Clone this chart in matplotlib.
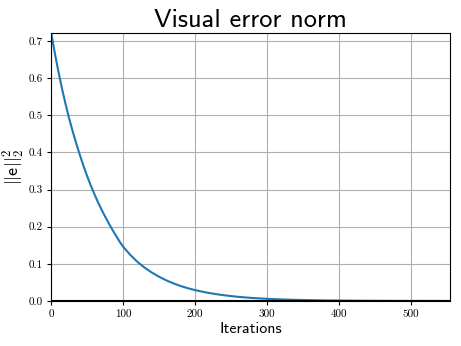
import numpy as np
import matplotlib.pyplot as plt

# values
iterations = [0, 5, 10, 15, 20, 25, 30, 35, 40, 45, 50, 55, 60, 65, 70, 75, 80, 85,
              90, 95, 100, 110, 120, 130, 140, 150, 160, 170, 180, 190, 200, 215,
              230, 245, 260, 280, 300, 320, 340, 360, 380, 400, 430, 460, 490,
              520, 554]
error_norm = [0.722, 0.668, 0.618, 0.572, 0.530, 0.491, 0.456, 0.423, 0.392, 0.363,
              0.336, 0.311, 0.288, 0.266, 0.246, 0.227, 0.209, 0.192, 0.176, 0.160,
              0.146, 0.124, 0.105, 0.0895, 0.0765, 0.0652, 0.0555, 0.0473, 0.0403,
              0.0344, 0.0293, 0.0231, 0.0182, 0.0144, 0.0112, 0.0081, 0.0059,
              0.0043, 0.0031, 0.0023, 0.0016, 0.0012, 0.0007, 0.0004, 0.0003,
              0.0002, 0.0001]

plt.rcParams['mathtext.fontset'] = 'cm'
plt.rcParams['axes.unicode_minus'] = False

fig, ax = plt.subplots(figsize=(4.61, 3.46), dpi=100)
fig.subplots_adjust(left=0.111, right=0.976, top=0.905, bottom=0.13)

ax.plot(iterations, error_norm, color="#1f77b4", lw=1.5)
ax.axhline(0, color="black", lw=1.5)
ax.set_xlim(0, 554)
ax.set_ylim(0, 0.7216)
ax.set_xticks([0, 100, 200, 300, 400, 500])
ax.set_yticks([0.0, 0.1, 0.2, 0.3, 0.4, 0.5, 0.6, 0.7])
ax.grid(True, color="#b0b0b0", lw=0.8)

for lab in ax.get_xticklabels() + ax.get_yticklabels():
    lab.set_fontfamily("cmr10")
    lab.set_fontsize(8)
ax.tick_params(length=3, width=0.8, pad=3)

ax.set_title("Visual error norm", fontfamily="cmss10", fontsize=19, pad=4)
ax.set_xlabel("Iterations", fontfamily="cmss10", fontsize=11.5, labelpad=2)
ax.set_ylabel(r"$||\mathsf{e}||_2^2$", fontsize=13, labelpad=1)

fig.savefig("out.png", dpi=100)
